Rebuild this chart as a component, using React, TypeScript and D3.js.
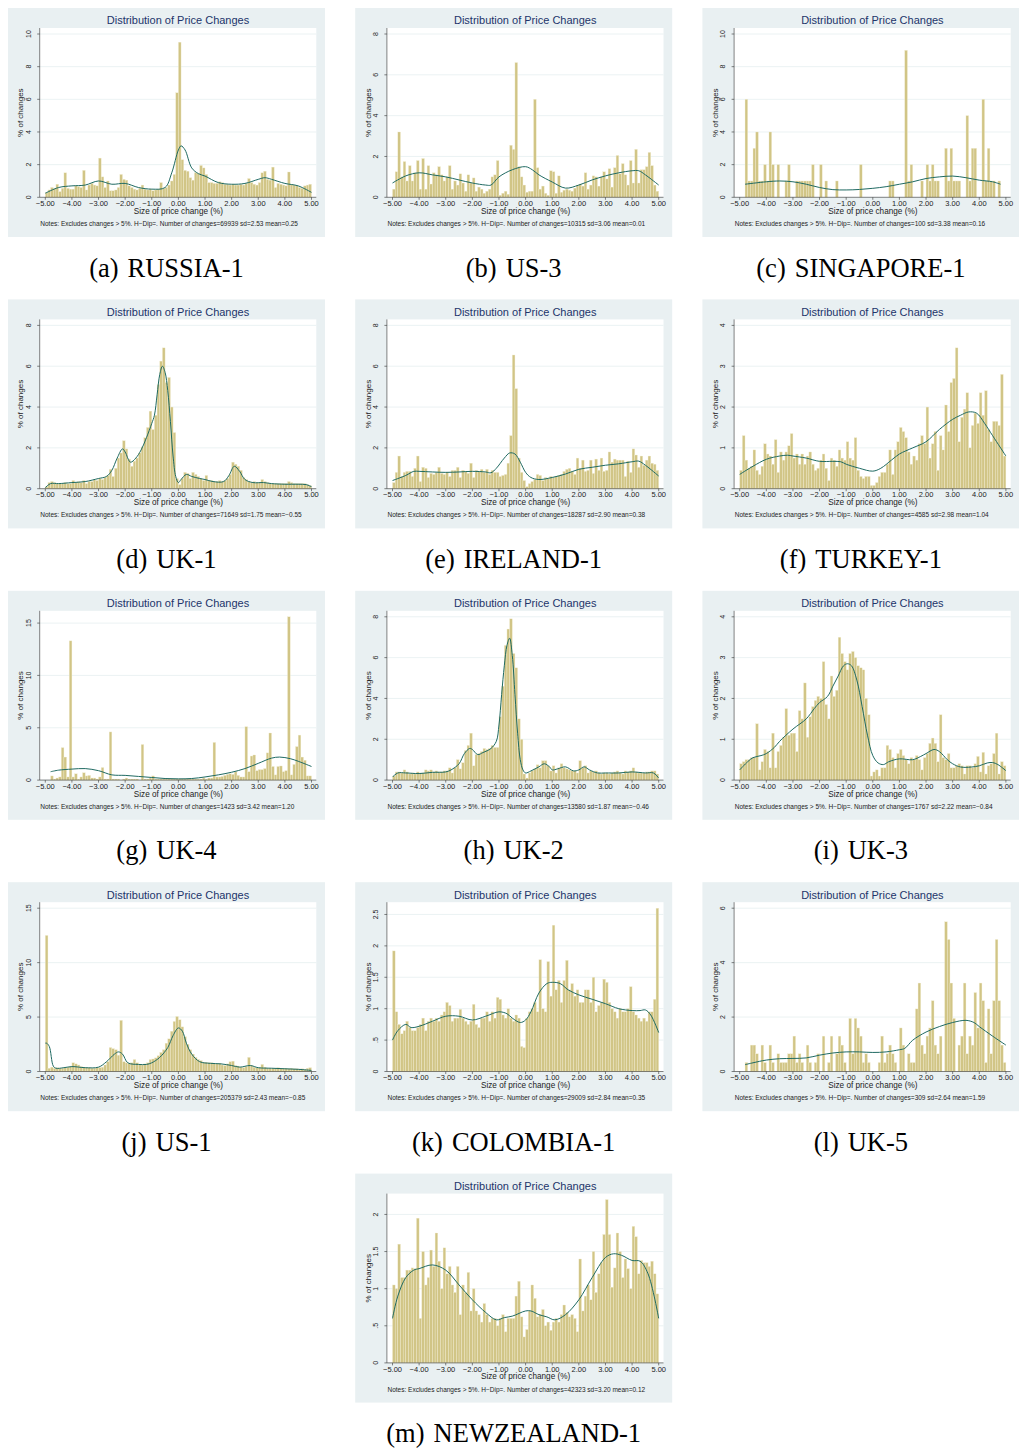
import React from "react";
import * as d3 from "d3";

// ---------------- DATA ----------------
// Histogram bins: start at -5, width 0.1 (100 bins), values are % of changes
const binStart = -5;
const binWidth = 0.1;
const xTicks = [-5, -4, -3, -2, -1, 0, 1, 2, 3, 4, 5];

const russia1 = [
  0.3, 0.45, 0.6, 0.55, 0.8, 0.35, 0.55, 1.5, 0.55, 0.5,
  0.5, 0.7, 0.65, 0.6, 1.65, 0.45, 0.75, 0.85, 0.75, 0.7,
  2.4, 1.25, 0.6, 1.0, 0.4, 0.4, 0.45, 0.6, 1.4, 1.1,
  1.05, 0.7, 0.6, 0.5, 0.45, 0.55, 0.75, 0.5, 0.45, 0.5,
  0.4, 0.45, 0.5, 0.9, 0.55, 0.6, 0.75, 1.0, 1.4, 6.4,
  9.5, 2.3, 1.65, 1.6, 1.2, 1.05, 1.5, 1.45, 1.95, 1.8,
  1.4, 0.9, 0.9, 0.85, 0.85, 0.95, 0.9, 0.8, 0.8, 0.75,
  0.8, 0.75, 0.75, 0.8, 0.75, 0.85, 1.15, 0.9, 0.8, 0.75,
  0.9, 1.5, 1.6, 1.1, 1.05, 1.85, 0.6, 0.85, 0.8, 0.75,
  0.7, 1.55, 0.8, 0.75, 0.7, 0.6, 0.55, 0.7, 0.75, 0.8,
];
const kdeRussia1: [number, number][] = [
  [-5, 0.25], [-4.5, 0.6], [-4, 0.7], [-3.5, 0.75], [-3, 1.0], [-2.5, 0.8], [-2, 0.85],
  [-1.5, 0.6], [-1, 0.5], [-0.5, 0.6], [-0.25, 1.5], [0, 2.9], [0.1, 3.15], [0.25, 2.9],
  [0.5, 1.8], [0.75, 1.45], [1, 1.3], [1.5, 0.9], [2, 0.8], [2.5, 0.85], [3, 1.1],
  [3.25, 1.2], [3.5, 1.1], [4, 0.85], [4.5, 0.7], [5, 0.3],
];

const us3 = [
  0.4, 1.25, 3.2, 1.0, 1.75, 0.8, 1.55, 0.8, 1.2, 1.8,
  0.4, 1.9, 0.4, 1.55, 0.65, 1.2, 1.1, 1.5, 1.1, 0.8,
  1.0, 1.55, 0.4, 0.8, 0.6, 1.15, 0.7, 0.3, 1.1, 0.7,
  0.95, 0.3, 0.5, 0.4, 0.2, 0.3, 0.4, 1.0, 1.1, 1.8,
  0.1, 0.2, 0.3, 0.15, 2.55, 2.35, 6.6, 1.5, 1.0, 0.6,
  0.25, 0.3, 0.3, 4.8, 1.45, 0.4, 0.55, 0.2, 0.1, 1.3,
  1.25, 0.2, 1.05, 0.25, 0.35, 0.4, 0.35, 0.3, 0.45, 0.6,
  0.65, 0.55, 1.2, 0.4, 0.6, 1.05, 1.0, 0.55, 1.0, 1.25,
  0.9, 1.4, 0.5, 1.45, 2.05, 1.15, 1.65, 1.1, 0.6, 1.8,
  0.7, 2.35, 0.7, 1.35, 1.35, 1.5, 2.2, 1.55, 0.6, 0.3,
];
const kdeUs3: [number, number][] = [
  [-5, 0.7], [-4.5, 1.05], [-4, 1.2], [-3.5, 1.1], [-3, 1.0], [-2.5, 0.85], [-2, 0.7],
  [-1.5, 0.6], [-1.3, 0.6], [-1, 1.0], [-0.5, 1.35], [0, 1.5], [0.25, 1.35], [0.5, 1.1],
  [1, 0.75], [1.5, 0.45], [2, 0.6], [2.5, 0.85], [3, 1.05], [3.5, 1.2], [4, 1.3],
  [4.25, 1.3], [4.5, 1.1], [5, 0.6],
];

const singapore1 = [
  0, 0, 6, 1, 1, 3, 4, 1, 1, 2,
  1, 4, 2, 0, 2, 0, 0, 1, 2, 0,
  0, 1, 1, 1, 1, 1, 1, 2, 0, 0,
  2, 0, 1, 0, 0, 0, 1, 0, 0, 0,
  0, 0, 0, 0, 0, 2, 0, 0, 0, 0,
  0, 0, 0, 0, 0, 0, 1, 1, 0, 0,
  0, 0, 9, 1, 2, 0, 0, 0, 1, 0,
  2, 1, 2, 1, 1, 0, 0, 3, 1, 3,
  1, 1, 1, 0, 0, 5, 1, 3, 3, 0,
  0, 6, 1, 3, 1, 1, 0, 1, 0, 0,
];
const kdeSingapore1: [number, number][] = [
  [-4.8, 0.8], [-4, 0.95], [-3.5, 1.0], [-3, 0.95], [-2.5, 0.8], [-2, 0.6], [-1.5, 0.47],
  [-1, 0.45], [-0.5, 0.48], [0, 0.55], [0.5, 0.65], [1, 0.8], [1.5, 0.95], [2, 1.15],
  [2.5, 1.25], [3, 1.3], [3.5, 1.2], [4, 1.05], [4.5, 0.95], [4.8, 0.8],
];

const uk1 = [
  0.1, 0.3, 0.35, 0.3, 0.25, 0.25, 0.25, 0.3, 0.25, 0.25,
  0.4, 0.3, 0.35, 0.3, 0.4, 0.25, 0.35, 0.35, 0.45, 0.4,
  0.5, 0.45, 0.55, 0.65, 0.95, 0.6, 1.0, 1.5, 1.75, 2.35,
  1.95, 1.45, 1.1, 1.35, 1.5, 1.75, 2.05, 2.5, 3.0, 3.8,
  2.9, 3.6, 5.1, 6.25, 6.9, 5.2, 5.45, 4.0, 2.75, 0.5,
  0.2, 0.5, 0.8, 0.75, 0.5, 0.8, 0.7, 0.6, 0.5, 0.4,
  0.65, 0.4, 0.4, 0.35, 0.35, 0.4, 0.35, 0.4, 0.5, 0.7,
  1.3, 1.2, 1.1, 0.9, 0.55, 0.45, 0.35, 0.3, 0.35, 0.3,
  0.3, 0.45, 0.35, 0.3, 0.25, 0.25, 0.25, 0.25, 0.25, 0.25,
  0.25, 0.35, 0.3, 0.25, 0.25, 0.25, 0.25, 0.25, 0.2, 0.15,
];
const kdeUk1: [number, number][] = [
  [-5, 0.05], [-4.8, 0.25], [-4.5, 0.25], [-4, 0.3], [-3.5, 0.35], [-3, 0.5], [-2.7, 0.6],
  [-2.5, 0.9], [-2.3, 1.5], [-2.1, 1.95], [-2.0, 1.8], [-1.8, 1.3], [-1.6, 1.5], [-1.4, 1.9],
  [-1.2, 2.5], [-1.0, 3.2], [-0.9, 3.6], [-0.8, 4.6], [-0.7, 5.6], [-0.6, 6.0], [-0.5, 5.7],
  [-0.4, 4.8], [-0.3, 3.3], [-0.2, 1.6], [-0.1, 0.6], [0, 0.3], [0.1, 0.45], [0.3, 0.7],
  [0.5, 0.6], [0.8, 0.5], [1.0, 0.45], [1.3, 0.35], [1.7, 0.35], [1.9, 0.65], [2.1, 1.1],
  [2.3, 0.85], [2.5, 0.45], [2.8, 0.3], [3.2, 0.3], [3.5, 0.25], [4, 0.22], [4.5, 0.22],
  [4.8, 0.2], [5, 0.1],
];

const ireland1 = [
  0.3, 0.8, 1.6, 0.6, 0.8, 0.85, 0.85, 0.6, 1.0, 1.6,
  0.35, 1.05, 1.0, 0.55, 0.75, 0.7, 0.8, 1.05, 0.75, 0.7,
  0.8, 0.6, 0.9, 0.9, 1.05, 0.55, 0.9, 0.85, 0.75, 1.25,
  0.55, 0.9, 0.85, 0.95, 0.8, 0.95, 0.7, 0.9, 0.8, 0.8,
  0.6, 0.65, 0.7, 1.25, 2.6, 6.55, 4.9, 1.5, 0.8, 0.4,
  0.1, 0.25, 0.35, 0.45, 0.7, 0.65, 0.4, 0.55, 0.5, 0.6,
  0.55, 0.6, 0.65, 0.7, 0.85, 0.95, 1.0, 0.85, 0.7, 1.5,
  1.0, 1.4, 0.85, 0.9, 1.4, 0.75, 1.45, 0.9, 1.5, 0.85,
  0.9, 1.8, 1.3, 1.45, 1.4, 1.4, 1.4, 0.6, 1.35, 0.8,
  1.95, 1.65, 1.05, 1.6, 1.15, 1.4, 1.6, 1.25, 1.2, 0.9,
];
const kdeIreland1: [number, number][] = [
  [-5, 0.4], [-4.5, 0.65], [-4.2, 0.85], [-4, 0.85], [-3.5, 0.82], [-3, 0.8], [-2.5, 0.82],
  [-2, 0.85], [-1.5, 0.82], [-1.3, 0.78], [-1.1, 1.0], [-0.8, 1.5], [-0.6, 1.75], [-0.4, 1.7],
  [-0.2, 1.3], [0, 0.8], [0.2, 0.55], [0.5, 0.45], [1, 0.55], [1.5, 0.72], [2, 0.95],
  [2.5, 1.05], [3, 1.15], [3.5, 1.22], [4, 1.32], [4.25, 1.35], [4.5, 1.15], [5, 0.62],
];

const turkey1 = [
  0.45, 1.3, 0.7, 0.5, 0.55, 0.95, 0.45, 0.35, 0.55, 1.1,
  0.85, 0.8, 0.6, 1.2, 0.4, 0.9, 0.7, 0.9, 1.05, 1.35,
  0.75, 0.85, 0.6, 0.85, 0.6, 0.8, 0.9, 0.6, 0.45, 0.5,
  0.7, 0.85, 0.5, 0.2, 0.75, 0.7, 0.55, 0.95, 0.75, 0.7,
  1.15, 0.75, 0.7, 1.25, 0.45, 0.3, 0.25, 0.3, 0.3, 0.08,
  0.08, 0.15, 0.3, 0.4, 0.4, 0.6, 0.95, 0.35, 0.95, 1.15,
  1.5, 1.4, 1.25, 0.9, 0.6, 0.8, 0.7, 1.1, 1.3, 1.1,
  2.0, 0.75, 1.1, 1.4, 0.45, 1.3, 0.95, 2.05, 1.4, 2.6,
  2.7, 3.45, 1.15, 1.75, 1.95, 2.35, 1.0, 1.55, 1.85, 1.6,
  2.35, 1.8, 2.4, 1.45, 1.15, 1.65, 1.65, 1.55, 2.8, 0.8,
];
const kdeTurkey1: [number, number][] = [
  [-5, 0.35], [-4.5, 0.55], [-4, 0.72], [-3.5, 0.8], [-3.2, 0.82], [-3, 0.8], [-2.5, 0.75],
  [-2, 0.67], [-1.5, 0.67], [-1.2, 0.66], [-1, 0.6], [-0.5, 0.5], [0, 0.43], [0.3, 0.5],
  [0.7, 0.7], [1, 0.85], [1.5, 1.0], [2, 1.15], [2.5, 1.45], [3, 1.7], [3.3, 1.8],
  [3.6, 1.88], [3.9, 1.85], [4.2, 1.6], [4.5, 1.3], [5, 0.8],
];

const uk4 = [
  0, 0, 0.4, 0.1, 0.2, 0.3, 3.1, 2.2, 0.3, 13.3,
  0.3, 0.6, 0.1, 0.3, 0.7, 0.4, 0.45, 0.2, 0.2, 0.1,
  0.3, 1.2, 0.1, 0.1, 4.6, 0.1, 0.1, 0.1, 0, 0.1,
  0.2, 0.1, 0.1, 0.1, 0.1, 0, 3.4, 0.1, 0.1, 0.2,
  0.4, 0.1, 0.1, 0.1, 0.1, 0.1, 0.1, 0.1, 0.1, 0.1,
  0.1, 0.1, 0.1, 0.1, 0.1, 0.1, 0.1, 0.1, 0.1, 0.2,
  0.1, 0.2, 0.2, 3.6, 0.3, 0.3, 0.35, 0.45, 0.55, 0.6,
  0.55, 0.8, 0.45, 0.3, 0.3, 5.1, 0.8, 2.3, 2.4, 0.9,
  1.0, 1.0, 1.1, 2.6, 4.5, 1.3, 0.5, 1.3, 1.35, 0.8,
  0.9, 15.6, 0.5, 1.5, 3.2, 4.3, 2.2, 1.9, 0.4, 0.4,
];
const kdeUk4: [number, number][] = [
  [-4.8, 0.8], [-4.5, 0.95], [-4, 1.05], [-3.5, 1.1], [-3, 0.9], [-2.5, 0.5], [-2, 0.45],
  [-1.5, 0.35], [-1, 0.25], [-0.5, 0.15], [0, 0.12], [0.5, 0.15], [1, 0.3], [1.5, 0.5],
  [2, 0.75], [2.5, 1.1], [3, 1.6], [3.5, 2.1], [3.8, 2.2], [4.2, 2.05], [4.5, 1.8], [5, 1.3],
];

const uk2 = [
  0.2, 0.4, 0.4, 0.35, 0.5, 0.4, 0.3, 0.35, 0.3, 0.4,
  0.35, 0.35, 0.5, 0.45, 0.5, 0.4, 0.45, 0.4, 0.4, 0.45,
  0.45, 0.6, 0.35, 0.6, 1.0, 0.55, 0.85, 1.45, 1.7, 2.3,
  0.7, 1.25, 1.3, 1.4, 1.55, 1.5, 1.55, 1.7, 1.6, 1.6,
  3.1, 4.6, 6.6, 7.4, 7.9, 6.2, 5.5, 3.0, 2.0, 0.3,
  0.1, 0.35, 0.45, 0.55, 0.75, 0.6, 0.95, 0.95, 0.7, 0.45,
  0.7, 0.35, 0.6, 0.8, 0.6, 0.55, 0.5, 0.45, 0.45, 0.35,
  0.95, 0.6, 0.7, 0.35, 0.45, 0.4, 0.45, 0.35, 0.3, 0.35,
  0.35, 0.3, 0.35, 0.4, 0.45, 0.35, 0.3, 0.45, 0.4, 0.45,
  0.6, 0.4, 0.35, 0.35, 0.35, 0.4, 0.4, 0.45, 0.45, 0.3,
];
const kdeUk2: [number, number][] = [
  [-5, 0.15], [-4.8, 0.35], [-4.5, 0.35], [-4, 0.32], [-3.5, 0.38], [-3, 0.4], [-2.8, 0.5],
  [-2.5, 0.8], [-2.3, 1.3], [-2.1, 1.55], [-2.0, 1.5], [-1.8, 1.25], [-1.6, 1.35], [-1.3, 1.55],
  [-1.1, 1.9], [-1.0, 2.7], [-0.9, 4.2], [-0.8, 5.6], [-0.7, 6.6], [-0.6, 6.95], [-0.5, 6.1],
  [-0.4, 4.2], [-0.3, 2.3], [-0.2, 1.0], [-0.1, 0.5], [0, 0.35], [0.2, 0.45], [0.5, 0.65],
  [0.7, 0.8], [0.9, 0.65], [1.0, 0.5], [1.2, 0.55], [1.5, 0.65], [1.8, 0.45], [2.0, 0.5],
  [2.2, 0.65], [2.4, 0.5], [2.7, 0.35], [3, 0.35], [3.5, 0.35], [4, 0.4], [4.5, 0.35],
  [4.8, 0.35], [5, 0.1],
];

const uk3 = [
  0.4, 0.45, 0.5, 0.5, 0.55, 0.55, 1.38, 0.25, 0.45, 0.75,
  0.7, 0.3, 1.15, 0.3, 0.7, 0.85, 1.05, 1.75, 1.1, 1.15,
  1.15, 0.7, 1.7, 1.5, 2.38, 1.05, 1.55, 1.8, 1.95, 2.05,
  2.0, 2.9, 1.85, 1.5, 2.55, 2.05, 2.2, 3.5, 3.1, 2.9,
  2.7, 3.1, 3.15, 3.0, 2.8, 2.75, 2.7, 2.0, 1.6, 0.1,
  0.2, 0.25, 0.1, 0.3, 0.3, 0.85, 0.75, 0.55, 0.3, 0.65,
  0.75, 0.6, 0.5, 0.4, 0.55, 0.5, 0.6, 0.5, 0.25, 0.55,
  0.65, 0.9, 1.03, 0.9, 0.45, 1.6, 0.55, 0.5, 0.65, 0.3,
  0.3, 0.35, 0.4, 0.35, 0.15, 0.35, 0.35, 0.3, 0.4, 0.58,
  0.2, 0.68, 0.15, 0.35, 0.4, 0.65, 1.15, 0.15, 0.45, 0.35,
];
const kdeUk3: [number, number][] = [
  [-5, 0.25], [-4.7, 0.45], [-4.5, 0.55], [-4.2, 0.6], [-4, 0.65], [-3.7, 0.8], [-3.5, 0.95],
  [-3, 1.25], [-2.5, 1.5], [-2.2, 1.75], [-2, 1.9], [-1.7, 2.05], [-1.5, 2.3], [-1.3, 2.55],
  [-1.1, 2.8], [-0.95, 2.85], [-0.8, 2.8], [-0.6, 2.45], [-0.4, 1.8], [-0.2, 1.1], [0, 0.6],
  [0.2, 0.42], [0.4, 0.38], [0.6, 0.45], [1, 0.52], [1.5, 0.5], [1.8, 0.58], [2, 0.65],
  [2.3, 0.75], [2.5, 0.7], [2.8, 0.5], [3, 0.4], [3.3, 0.32], [3.7, 0.32], [4, 0.35],
  [4.3, 0.42], [4.5, 0.43], [4.7, 0.38], [5, 0.23],
];

const us1 = [
  12.5, 0.3, 0.4, 0.3, 0.35, 0.3, 0.3, 0.35, 0.4, 0.45,
  0.8, 0.7, 0.6, 0.45, 0.4, 0.35, 0.35, 0.3, 0.3, 0.35,
  0.35, 0.4, 0.6, 0.9, 2.2, 2.1, 2.0, 1.5, 4.7, 0.9,
  0.8, 0.75, 0.8, 1.1, 0.8, 0.65, 0.6, 0.7, 0.8, 1.1,
  1.15, 1.25, 1.45, 1.75, 2.0, 2.6, 3.0, 3.7, 4.6, 5.05,
  4.75, 4.1, 3.2, 2.5, 2.0, 1.6, 1.3, 1.1, 1.0, 0.85,
  0.85, 0.8, 0.8, 0.75, 0.7, 0.75, 0.6, 0.55, 0.7, 0.9,
  0.95, 0.55, 0.5, 0.4, 0.35, 0.45, 1.3, 0.55, 0.4, 0.35,
  0.35, 0.65, 0.4, 0.3, 0.3, 0.3, 0.3, 0.35, 0.3, 0.3,
  0.3, 0.25, 0.3, 0.25, 0.25, 0.2, 0.25, 0.2, 0.3, 0.35,
];
const kdeUs1: [number, number][] = [
  [-5, 2.6], [-4.95, 2.6], [-4.85, 2.3], [-4.7, 0.5], [-4.6, 0.3], [-4.3, 0.35], [-4, 0.45],
  [-3.5, 0.35], [-3, 0.4], [-2.7, 0.9], [-2.4, 1.6], [-2.25, 1.8], [-2.1, 1.6], [-1.9, 0.8],
  [-1.5, 0.65], [-1.2, 0.65], [-1, 0.8], [-0.7, 1.3], [-0.4, 2.2], [-0.2, 3.3], [0, 4.0],
  [0.15, 3.7], [0.3, 2.6], [0.5, 1.6], [0.8, 0.9], [1.2, 0.75], [1.6, 0.7], [2, 0.55],
  [2.3, 0.4], [2.7, 0.55], [3, 0.35], [3.5, 0.3], [4, 0.25], [4.5, 0.2], [5, 0.1],
];

const colombia1 = [
  1.92, 0.95, 0.75, 0.6, 0.65, 0.8, 0.7, 0.65, 0.65, 0.7,
  0.75, 0.85, 0.65, 0.8, 0.85, 0.8, 0.85, 0.8, 0.9, 0.95,
  1.1, 1.05, 0.8, 0.85, 0.85, 0.99, 0.85, 0.8, 0.75, 0.8,
  1.07, 0.75, 0.7, 0.85, 0.85, 0.95, 0.8, 0.95, 0.85, 1.18,
  1.15, 0.9, 0.85, 1.0, 0.85, 0.8, 0.9, 0.85, 0.4, 0.38,
  0.85, 0.95, 1.0, 1.1, 0.95, 1.78, 1.0, 0.95, 1.75, 1.2,
  2.33, 1.3, 1.45, 1.1, 1.45, 1.77, 1.3, 1.4, 1.2, 1.3,
  1.1, 1.1, 1.3, 1.3, 1.1, 1.5, 0.95, 1.05, 1.1, 1.47,
  1.42, 1.1, 1.0, 0.95, 0.85, 1.0, 0.95, 0.95, 1.0, 1.35,
  0.95, 0.9, 0.85, 0.8, 0.85, 0.8, 0.95, 0.95, 1.15, 2.6,
];
const kdeColombia1: [number, number][] = [
  [-5, 0.5], [-4.8, 0.65], [-4.5, 0.75], [-4.3, 0.7], [-4, 0.72], [-3.5, 0.8], [-3, 0.88],
  [-2.5, 0.88], [-2, 0.82], [-1.5, 0.88], [-1, 0.95], [-0.7, 0.92], [-0.5, 0.85], [-0.2, 0.78],
  [0, 0.82], [0.2, 0.95], [0.5, 1.25], [0.8, 1.4], [1, 1.42], [1.3, 1.4], [1.6, 1.3],
  [2, 1.22], [2.5, 1.15], [3, 1.08], [3.5, 1.0], [4, 0.97], [4.3, 0.97], [4.5, 0.98],
  [4.7, 0.9], [5, 0.62],
];

const uk5 = [
  0, 0, 0.33, 0, 0.97, 0.97, 0.65, 0, 0.97, 0.33,
  0, 0.97, 0.33, 0, 0.65, 0.33, 0.33, 0.33, 0.65, 0.65,
  1.3, 0.33, 0.65, 0.33, 0, 0.97, 0.33, 0, 0.33, 0.65,
  0, 1.3, 0, 0.33, 1.3, 0, 0.65, 1.3, 0.97, 0.33,
  0, 1.95, 0.65, 1.95, 1.6, 1.3, 0.33, 0.65, 0.33, 0,
  0, 0, 0.33, 1.3, 0.33, 0.65, 0.97, 0.65, 0.33, 0,
  1.6, 0.97, 0, 0.65, 0.33, 0.33, 2.3, 3.25, 0.97, 0.65,
  1.3, 1.6, 2.6, 0.97, 0.65, 1.3, 0, 5.5, 4.85, 3.25,
  1.95, 0, 0.97, 1.3, 3.25, 0.65, 1.3, 0.97, 2.9, 1.6,
  3.25, 2.6, 0.33, 2.3, 0.65, 2.6, 4.85, 2.6, 0.97, 0.33,
];
const kdeUk5: [number, number][] = [
  [-4.8, 0.25], [-4.5, 0.32], [-4, 0.42], [-3.5, 0.47], [-3, 0.48], [-2.5, 0.5], [-2, 0.6],
  [-1.5, 0.68], [-1, 0.72], [-0.5, 0.72], [0, 0.7], [0.5, 0.72], [1, 0.8], [1.2, 0.85],
  [1.5, 1.15], [2, 1.45], [2.5, 1.65], [3, 1.8], [3.5, 1.88], [3.8, 1.8], [4, 1.65],
  [4.5, 1.3], [5, 0.97],
];

const newzealand1 = [
  1.05, 1.0, 1.6, 1.15, 1.15, 1.25, 1.25, 1.28, 1.27, 1.95,
  0.6, 1.5, 1.05, 1.15, 1.52, 1.3, 1.75, 1.37, 1.0, 1.55,
  1.2, 1.3, 1.05, 0.95, 1.3, 0.65, 1.05, 0.95, 1.22, 0.7,
  1.0, 0.7, 0.65, 0.55, 0.8, 0.65, 0.55, 0.6, 0.6, 0.5,
  0.6, 0.65, 0.42, 0.6, 0.6, 0.6, 0.9, 1.1, 0.62, 0.35,
  0.45, 0.7, 1.05, 0.87, 0.62, 0.65, 0.72, 0.5, 0.55, 0.44,
  0.55, 0.6, 0.55, 0.65, 0.78, 0.68, 0.62, 0.65, 0.6, 0.42,
  1.4, 0.7, 0.9, 1.05, 0.85, 1.5, 0.95, 1.2, 1.35, 1.73,
  2.2, 1.73, 1.02, 1.28, 1.75, 1.5, 1.15, 1.4, 1.27, 1.0,
  1.84, 1.7, 1.2, 1.38, 1.35, 1.35, 1.3, 1.37, 1.2, 0.93,
];
const kdeNewzealand1: [number, number][] = [
  [-5, 0.6], [-4.8, 0.9], [-4.5, 1.15], [-4.2, 1.25], [-4, 1.27], [-3.5, 1.32], [-3, 1.25],
  [-2.5, 1.05], [-2, 0.85], [-1.5, 0.68], [-1.1, 0.58], [-0.8, 0.61], [-0.5, 0.63], [0, 0.7],
  [0.2, 0.7], [0.5, 0.65], [0.8, 0.62], [1.1, 0.58], [1.5, 0.65], [2, 0.85], [2.5, 1.15],
  [3, 1.42], [3.3, 1.47], [3.6, 1.45], [4, 1.38], [4.3, 1.37], [4.6, 1.2], [5, 0.6],
];

const panelNames = ["RUSSIA-1", "US-3", "SINGAPORE-1", "UK-1", "IRELAND-1", "TURKEY-1", "UK-4", "UK-2", "UK-3", "US-1", "COLOMBIA-1", "UK-5", "NEWZEALAND-1"];
const panelLetters = ["a", "b", "c", "d", "e", "f", "g", "h", "i", "j", "k", "l", "m"];
const panelBars = [russia1, us3, singapore1, uk1, ireland1, turkey1, uk4, uk2, uk3, us1, colombia1, uk5, newzealand1];
const panelKde = [kdeRussia1, kdeUs3, kdeSingapore1, kdeUk1, kdeIreland1, kdeTurkey1, kdeUk4, kdeUk2, kdeUk3, kdeUs1, kdeColombia1, kdeUk5, kdeNewzealand1];
const yTopTick = [10, 8, 10, 8, 8, 4, 15, 8, 4, 15, 2.5, 6, 2];
const yTickStep = [2, 2, 2, 2, 2, 1, 5, 2, 1, 5, 0.5, 2, 0.5];
const nChanges = ["69939", "10315", "100", "71649", "18287", "4585", "1423", "13580", "1767", "205379", "29009", "309", "42323"];
const sdValues = ["2.53", "3.06", "3.38", "1.75", "2.90", "2.98", "3.42", "1.87", "2.22", "2.43", "2.84", "2.64", "3.20"];
const meanValues = ["0.25", "0.01", "0.16", "−0.55", "0.38", "1.04", "1.20", "−0.46", "−0.84", "−0.85", "0.35", "1.59", "0.12"];

// ---------------- LAYOUT ----------------
const W = 1019;
const H = 1451;
const PW = 317;
const PH = 229;
const colX = [8, 355.2, 702.4];
const rowY = [8, 299.4, 590.8, 882.2, 1173.6];
const panelPos: [number, number][] = [
  [colX[0], rowY[0]], [colX[1], rowY[0]], [colX[2], rowY[0]],
  [colX[0], rowY[1]], [colX[1], rowY[1]], [colX[2], rowY[1]],
  [colX[0], rowY[2]], [colX[1], rowY[2]], [colX[2], rowY[2]],
  [colX[0], rowY[3]], [colX[1], rowY[3]], [colX[2], rowY[3]],
  [colX[1], rowY[4]],
];

const plotL = 31.7, plotR = 308.3, plotT = 20, plotB = 189.3;
const xL = 37.3, xR = 303.5, yTopPx = 26;

const BG = "#e9f0f2";
const BAR_FILL = "#d1c586";
const BAR_STROKE = "#f2eed4";
const KDE = "#1f6a62";
const TITLE = "#22346a";
const SANS = "'Liberation Sans', Arial, Helvetica, sans-serif";

const fmtX = d3.format(".2f");
const fmtY = (v: number) => {
  if (v === 0) return "0";
  const s = String(+v.toFixed(2));
  return s.startsWith("0.") ? s.slice(1) : s;
};

function Panel({ idx }: { idx: number }) {
  const [ox, oy] = panelPos[idx];
  const bars = panelBars[idx];
  const kde = panelKde[idx];
  const yMax = Math.max(yTopTick[idx], d3.max(bars) as number, d3.max(kde, (d) => d[1]) as number);
  const xs = d3.scaleLinear().domain([-5, 5]).range([xL, xR]);
  const ys = d3.scaleLinear().domain([0, yMax]).range([plotB, yTopPx]);
  const yTicks = d3.range(0, yTopTick[idx] + 1e-9, yTickStep[idx]);
  const line = d3
    .line<[number, number]>()
    .x((d) => xs(d[0]))
    .y((d) => ys(d[1]))
    .curve(d3.curveCatmullRom.alpha(0.5));
  const bw = xs(binWidth) - xs(0);
  const note = `Notes: Excludes changes > 5%. H−Dip=. Number of changes=${nChanges[idx]} sd=${sdValues[idx]} mean=${meanValues[idx]}`;
  const cx = PW / 2;
  return (
    <g transform={`translate(${ox},${oy})`} fontFamily={SANS}>
      <rect x={0} y={0} width={PW} height={PH} fill={BG} />
      <rect x={plotL} y={plotT} width={plotR - plotL} height={plotB - plotT} fill="#ffffff" />
      {yTicks.map((t) => (
        <line key={"g" + t} x1={plotL} x2={plotR} y1={ys(t)} y2={ys(t)} stroke={BG} strokeWidth={0.9} />
      ))}
      {bars.map((v, i) =>
        v > 0 ? (
          <rect
            key={"b" + i}
            x={xs(binStart + i * binWidth)}
            y={ys(v)}
            width={bw}
            height={ys(0) - ys(v)}
            fill={BAR_FILL}
            stroke={BAR_STROKE}
            strokeWidth={0.35}
          />
        ) : null
      )}
      <path d={line(kde) || ""} fill="none" stroke={KDE} strokeWidth={1} />
      {/* axes */}
      <line x1={plotL} x2={plotL} y1={plotT} y2={plotB} stroke="#333" strokeWidth={0.6} />
      <line x1={plotL} x2={plotR} y1={plotB} y2={plotB} stroke="#333" strokeWidth={0.6} />
      {yTicks.map((t) => (
        <g key={"yt" + t}>
          <line x1={plotL - 2.5} x2={plotL} y1={ys(t)} y2={ys(t)} stroke="#333" strokeWidth={0.6} />
          <text
            transform={`translate(${22.8},${ys(t)}) rotate(-90)`}
            textAnchor="middle"
            fontSize={7}
            fill="#222"
          >
            {fmtY(t)}
          </text>
        </g>
      ))}
      {xTicks.map((t) => (
        <g key={"xt" + t}>
          <line x1={xs(t)} x2={xs(t)} y1={plotB} y2={plotB + 2.5} stroke="#333" strokeWidth={0.6} />
          <text x={xs(t)} y={198} textAnchor="middle" fontSize={7.5} fill="#222">
            {fmtX(t)}
          </text>
        </g>
      ))}
      <text x={(plotL + plotR) / 2} y={16.4} textAnchor="middle" fontSize={11} fill={TITLE}>
        Distribution of Price Changes
      </text>
      <text transform={`translate(15.4,${(plotT + plotB) / 2}) rotate(-90)`} textAnchor="middle" fontSize={8} fill="#222">
        % of changes
      </text>
      <text x={(xL + xR) / 2} y={205.8} textAnchor="middle" fontSize={8.2} fill="#222">
        Size of price change (%)
      </text>
      <text x={32.3} y={218} fontSize={6.5} fill="#222">
        {note}
      </text>
      <text
        x={cx}
        y={PH + 39.5}
        textAnchor="middle"
        fontFamily="'Liberation Serif', 'Times New Roman', serif"
        fontSize={26.5}
        fill="#000"
      >
        <tspan>({panelLetters[idx]})</tspan>
        <tspan dx={9}>{panelNames[idx]}</tspan>
      </text>
    </g>
  );
}

export default function App() {
  return (
    <svg
      width={W}
      height={H}
      viewBox={`0 0 ${W} ${H}`}
      style={{ position: "absolute", left: 0, top: 0, background: "#ffffff" }}
    >
      <rect x={0} y={0} width={W} height={H} fill="#ffffff" />
      {panelNames.map((_, i) => (
        <Panel key={i} idx={i} />
      ))}
    </svg>
  );
}
